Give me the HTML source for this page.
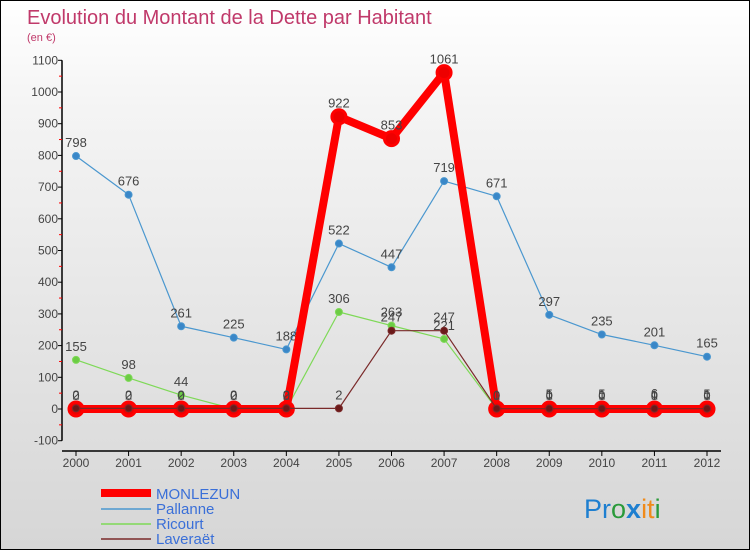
<!DOCTYPE html>
<html><head><meta charset="utf-8"><style>
body{margin:0}
#c{width:750px;height:550px;position:relative;box-sizing:border-box;border:1px solid #000;background:linear-gradient(#fff,#f4f4f4 20%,#d6d6d6);font-family:"Liberation Sans",sans-serif;overflow:hidden}
svg text{font-family:"Liberation Sans","DejaVu Sans",sans-serif}
</style></head><body>
<div id="c">
<svg id="s" width="750" height="550">
<text x="26" y="23" font-size="20" fill="#c0396a">Evolution du Montant de la Dette par Habitant</text>
<text x="26" y="40" font-size="11" fill="#c0396a">(en €)</text>
<g id="axes"></g><g id="series"></g>
<g>
<line x1="100" y1="492" x2="150" y2="492" stroke="#f00" stroke-width="8"/>
<text x="155" y="498" font-size="15" fill="#3a6fd8">MONLEZUN</text>
<line x1="100" y1="508" x2="150" y2="508" stroke="#4a97cf" stroke-width="1.5"/>
<text x="155" y="513" font-size="15" fill="#3a6fd8">Pallanne</text>
<line x1="100" y1="523" x2="150" y2="523" stroke="#7ed957" stroke-width="1.5"/>
<text x="155" y="528" font-size="15" fill="#3a6fd8">Ricourt</text>
<line x1="100" y1="538" x2="150" y2="538" stroke="#7a2a2a" stroke-width="1.5"/>
<text x="155" y="543" font-size="15" fill="#3a6fd8">Laveraët</text>
</g>
<g font-size="27">
<text x="583" y="517"><tspan fill="#1e7fd0">Pr</tspan><tspan fill="#2a9a3a">o</tspan><tspan fill="#1e7fd0" font-weight="bold">x</tspan><tspan fill="#f08a1a">it</tspan><tspan fill="#2a9a3a">i</tspan></text>
</g>
</svg>
</div>
<script>
const years=[2000,2001,2002,2003,2004,2005,2006,2007,2008,2009,2010,2011,2012];
const yTicks=[-100,0,100,200,300,400,500,600,700,800,900,1000,1100];
const monlezun=[0,0,0,0,0,922,853,1061,0,0,0,0,0];
const pallanne=[798,676,261,225,188,522,447,719,671,297,235,201,165];
const ricourt=[155,98,44,0,0,306,263,221,0,5,5,6,5];
const laveraet=[2,2,2,2,2,2,247,247,1,1,1,1,1];
const NS='http://www.w3.org/2000/svg';
const X=i=>75+i*(706-75)/(years.length-1);
const Y=v=>408-v*0.317;
function mk(t,a,p){const e=document.createElementNS(NS,t);for(const k in a)e.setAttribute(k,a[k]);p.appendChild(e);return e;}
const ax=document.getElementById('axes');
let e=mk('line',{x1:61,y1:Y(1100),x2:61,y2:Y(-100),stroke:'#000','stroke-width':1.5},ax);


e=mk('line',{x1:61,y1:450,x2:720,y2:450,stroke:'#000','stroke-width':1.5},ax);


yTicks.forEach((v,i)=>{
 mk('line',{x1:57,y1:Y(v),x2:61,y2:Y(v),stroke:'#000'},ax);
 if(i<yTicks.length-1)mk('line',{x1:58,y1:Y(v+50),x2:61,y2:Y(v+50),stroke:'#f00'},ax);
 const t=mk('text',{x:57,y:Y(v)+4,'font-size':12,fill:'#444','text-anchor':'end'},ax);t.textContent=v;
 
 
});
years.forEach((y,i)=>{
 mk('line',{x1:X(i),y1:450,x2:X(i),y2:455,stroke:'#000'},ax);
 const t=mk('text',{x:X(i),y:466,'font-size':12,fill:'#444','text-anchor':'middle'},ax);t.textContent=y;
 
 
});
const sg=document.getElementById('series');
function series(d,name,col,w,r,dot){
 const g=mk('g',{},sg);
 
 
 const p=mk('polyline',{points:d.map((v,i)=>X(i)+','+Y(v)).join(' '),fill:'none',stroke:col,'stroke-width':w,'stroke-linejoin':'round'},g);
 
 
 d.forEach((v,i)=>{
  const c=mk('circle',{cx:X(i),cy:Y(v),r:r,fill:dot,stroke:col,'stroke-width':w>4?3:1},g);
  
  
  const t=mk('text',{x:X(i),y:Y(v)-9,'font-size':13,fill:'#444','text-anchor':'middle'},g);t.textContent=v;
  
  
 });
}
series(pallanne,'pallanne','#4a97cf',1.2,3.5,'#3a87c8');
series(ricourt,'ricourt','#7ed957',1.2,3.5,'#6ccc44');
series(monlezun,'monlezun','#f00',8,7,'#e00');
series(laveraet,'laveraet','#7a2a2a',1.2,3.5,'#6b1a1a');
</script>
</body></html>
